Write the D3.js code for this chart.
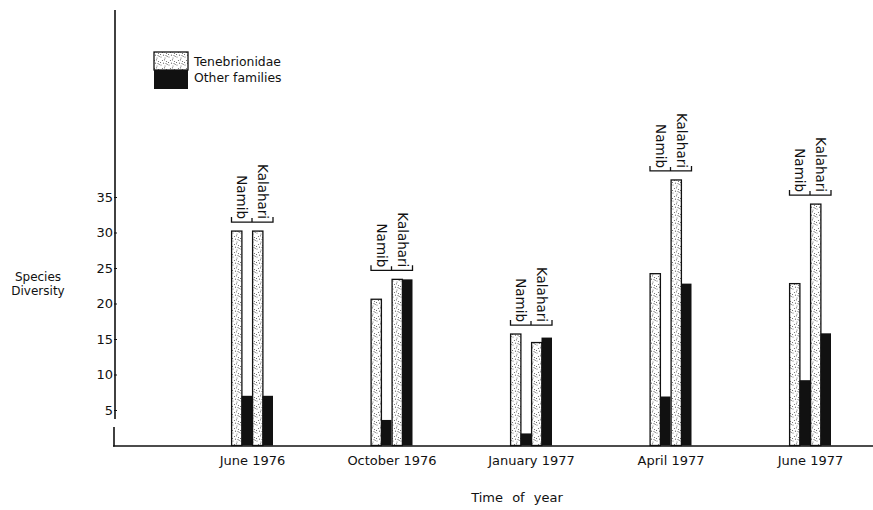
<!DOCTYPE html>
<html>
<head>
<meta charset="utf-8">
<script src="https://cdn.jsdelivr.net/npm/d3@7"></script>
<style>
  html, body { margin: 0; padding: 0; background: #fff; }
  svg { display: block; font-family: "DejaVu Sans", sans-serif; }
  text { fill: #111; }
</style>
</head>
<body>
<svg id="chart" width="873" height="510"></svg>
<script>
// ---- data ----
const periods = ["June 1976", "October 1976", "January 1977", "April 1977", "June 1977"];
const sites = ["Namib", "Kalahari"];
const seriesNames = ["Tenebrionidae", "Other families"];
const teneNamib  = [30.2, 20.6, 15.7, 24.2, 22.8];
const otherNamib = [7.0, 3.6, 1.7, 6.9, 9.2];
const teneKal    = [30.2, 23.4, 14.5, 37.4, 34.0];
const otherKal   = [7.0, 23.4, 15.2, 22.8, 15.8];
const yTicks = [5, 10, 15, 20, 25, 30, 35];

const values = {
  Namib: { "Tenebrionidae": teneNamib, "Other families": otherNamib },
  Kalahari: { "Tenebrionidae": teneKal, "Other families": otherKal }
};

const svg = d3.select("#chart");

// stipple pattern
const defs = svg.append("defs");
const pat = defs.append("pattern").attr("id", "stipple")
  .attr("patternUnits", "userSpaceOnUse").attr("width", 8).attr("height", 8);
pat.append("rect").attr("width", 8).attr("height", 8).attr("fill", "#fff");
[[1,1],[5,2],[2.5,4.5],[6.5,5.5],[3.5,7.2],[7.2,0.3],[0.5,6.5],[4.5,3.8],[6,7.6]].forEach(p => {
  pat.append("circle").attr("cx", p[0]).attr("cy", p[1]).attr("r", 0.6).attr("fill", "#666");
});

// scales
const x = d3.scalePoint().domain(periods).range([252, 810]);
const xSite = d3.scaleBand().domain(sites).range([-21, 21]);
const xSer = d3.scaleBand().domain(seriesNames).range([0, xSite.bandwidth()]);
const y = d3.scaleLinear().domain([0, 35]).range([445.5, 197]);

// axes lines
svg.append("line").attr("x1", 115).attr("x2", 115).attr("y1", 10).attr("y2", 419)
  .attr("stroke", "#111").attr("stroke-width", 1.6);
svg.append("line").attr("x1", 114).attr("x2", 114).attr("y1", 427).attr("y2", 446.5)
  .attr("stroke", "#111").attr("stroke-width", 1.6);
svg.append("line").attr("x1", 113).attr("x2", 873).attr("y1", 446).attr("y2", 446)
  .attr("stroke", "#111").attr("stroke-width", 1.6);

// y axis ticks
const yAxis = d3.axisLeft(y).tickValues(yTicks).tickSize(3).tickPadding(1);
const yg = svg.append("g").attr("transform", "translate(117,0)").call(yAxis);
yg.select(".domain").remove();
yg.selectAll(".tick line").attr("stroke", "#111").attr("stroke-width", 1);
yg.selectAll(".tick text").attr("font-size", 13).attr("fill", "#111")
  .attr("font-family", "DejaVu Sans, sans-serif").attr("x", -4);

// x axis labels
const xAxis = d3.axisBottom(x).tickSize(0).tickPadding(10);
const xg = svg.append("g").attr("transform", "translate(0,446)").call(xAxis);
xg.select(".domain").remove();
xg.selectAll(".tick text").attr("font-size", 13).attr("fill", "#111")
  .attr("font-family", "DejaVu Sans, sans-serif");

// bars
periods.forEach((p, i) => {
  sites.forEach(s => {
    const x0 = x(p) + xSite(s);
    const tv = values[s]["Tenebrionidae"][i];
    svg.append("rect")
      .attr("x", x0 + xSer("Tenebrionidae") + 0.6)
      .attr("y", y(tv))
      .attr("width", xSer.bandwidth() - 0.2)
      .attr("height", y(0) - y(tv))
      .attr("fill", "url(#stipple)").attr("stroke", "#111").attr("stroke-width", 1.3);
    const ov = values[s]["Other families"][i];
    svg.append("rect")
      .attr("x", x0 + xSer("Other families"))
      .attr("y", y(ov))
      .attr("width", xSer.bandwidth())
      .attr("height", y(0) - y(ov))
      .attr("fill", "#111");
  });
  // bracket
  const mx = d3.max(sites.flatMap(s => seriesNames.map(n => values[s][n][i])));
  const yb = y(mx) - 9;
  const left = x(p) + xSite("Namib") + 0.5;
  const right = x(p) + xSite("Kalahari") + xSite.bandwidth();
  const mid = x(p);
  svg.append("path")
    .attr("d", `M${left},${yb-5}L${left},${yb}L${right},${yb}L${right},${yb-5}M${mid},${yb}L${mid},${yb-4}`)
    .attr("fill", "none").attr("stroke", "#111").attr("stroke-width", 1.3);
  sites.forEach(s => {
    const cx = x(p) + xSite(s) + xSite.bandwidth() / 2 + 0.5;
    svg.append("text")
      .attr("transform", `translate(${cx},${yb - 3}) rotate(90)`)
      .attr("text-anchor", "end").attr("dy", "0.35em")
      .attr("font-size", 13.5).text(s);
  });
});

// legend
const lg = svg.append("g");
lg.append("rect").attr("x", 154).attr("y", 52).attr("width", 34).attr("height", 18)
  .attr("fill", "url(#stipple)").attr("stroke", "#111").attr("stroke-width", 1.3);
lg.append("rect").attr("x", 154).attr("y", 70).attr("width", 34).attr("height", 19)
  .attr("fill", "#111");
lg.selectAll("text.leg").data(seriesNames).enter().append("text")
  .attr("x", 194).attr("y", (d, k) => 66 + k * 16)
  .attr("font-size", 12.4).text(d => d);

// axis titles
svg.append("text").attr("x", 38).attr("y", 281).attr("text-anchor", "middle")
  .attr("font-size", 12).text("Species");
svg.append("text").attr("x", 38).attr("y", 295).attr("text-anchor", "middle")
  .attr("font-size", 12).text("Diversity");
svg.append("text").attr("x", 517).attr("y", 502).attr("text-anchor", "middle")
  .attr("font-size", 13).attr("word-spacing", 5).text("Time of year");
</script>
</body>
</html>
